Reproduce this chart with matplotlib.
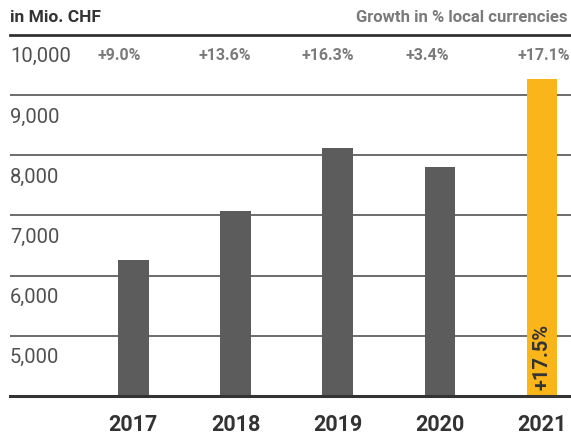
import matplotlib
matplotlib.use("Agg")
import matplotlib.pyplot as plt
import numpy as np

years = ["2017", "2018", "2019", "2020", "2021"]
sales = [6267, 7067, 8117, 7800, 9267]
growth_local = ["+9.0%", "+13.6%", "+16.3%", "+3.4%", "+17.1%"]
highlight_label = "+17.5%"
y_ticks = [5000, 6000, 7000, 8000, 9000, 10000]
y_tick_labels = ["5,000", "6,000", "7,000", "8,000", "9,000", "10,000"]

plt.rcParams['font.family'] = ['Roboto', 'DejaVu Sans']

W, H = 571, 435
fig = plt.figure(figsize=(W / 100, H / 100), dpi=100)
ax = fig.add_axes([10 / W, 1 - 397 / H, 1 - 10 / W, (397 - 36) / H])

dark_bar = "#5b5c5b"
yellow = "#f9b51a"
colors = [dark_bar] * (len(years) - 1) + [yellow]
x = np.arange(len(years))
ax.bar(x, sales, width=0.30, color=colors, zorder=3)

ax.set_ylim(4000, 10000)
ax.set_xlim(-1.206, 4.283)

# grid lines
for v in y_ticks[:-1]:
    ax.axhline(v, color="#444444", lw=1.1, zorder=1)

for s in ["left", "right"]:
    ax.spines[s].set_visible(False)
ax.spines["top"].set_color("#333333")
ax.spines["top"].set_linewidth(2)
ax.spines["bottom"].set_color("#333333")
ax.spines["bottom"].set_linewidth(2.2)
ax.spines["bottom"].set_zorder(4)

ax.set_yticks([])
ax.set_xticks(x)
ax.set_xticklabels(years, fontsize=15.5, fontweight="bold", color="#333333")
ax.tick_params(axis="x", length=0, pad=12)

# y labels placed below their grid lines
for v, lab in zip(y_ticks, y_tick_labels):
    ax.annotate(lab, xy=(0, v), xycoords=("axes fraction", "data"),
                xytext=(0, -15), textcoords="offset points",
                ha="left", va="center", fontsize=14.5, color="#505050",
                fontweight="normal")

# growth labels in local currencies
dx = [-10, -8, -7, -9, 1]
for xi, g, d in zip(x, growth_local, dx):
    ax.annotate(g, xy=(xi, 10000), xycoords="data",
                xytext=(d, -14), textcoords="offset points",
                ha="center", va="center", fontsize=11.5, fontweight="bold",
                color="#7a7a7a")

# label inside highlighted bar
ax.annotate(highlight_label, xy=(x[-1], 4000), xycoords="data",
            xytext=(0, 5), textcoords="offset points",
            ha="center", va="bottom", rotation=90, fontsize=14.5,
            fontweight="bold", color="#333333", zorder=5)

fig.text(10 / W, 1 - 17 / H, "in Mio. CHF", ha="left", va="center",
         fontsize=12.5, fontweight="bold", color="#333333")
fig.text(1 - 3 / W, 1 - 17 / H, "Growth in % local currencies", ha="right",
         va="center", fontsize=12, fontweight="bold", color="#7a7a7a")

fig.savefig("out.png", dpi=100)
